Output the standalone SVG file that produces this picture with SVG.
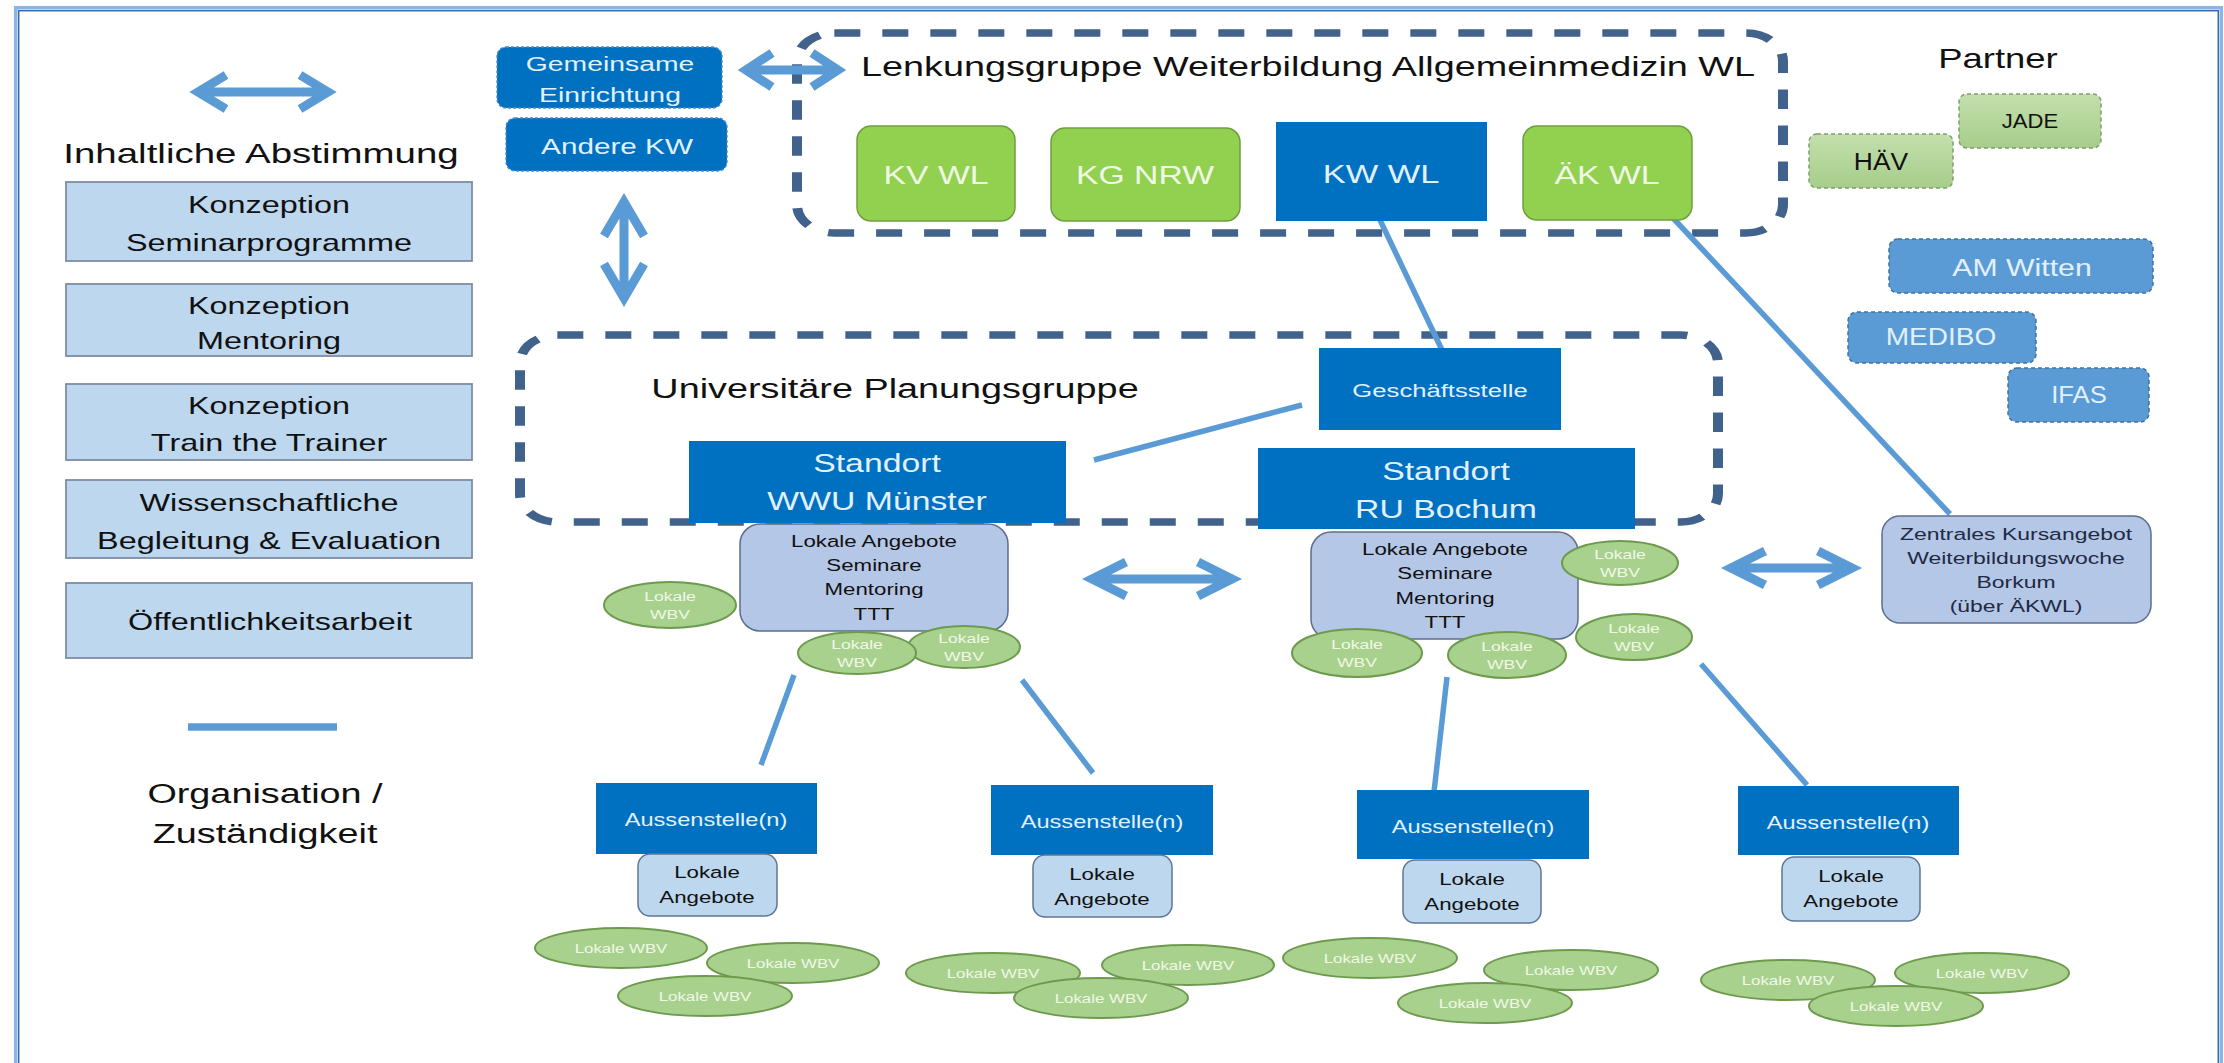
<svg xmlns="http://www.w3.org/2000/svg" width="2224" height="1063" viewBox="0 0 2224 1063">
<defs>
<style>
.t{font-family:"Liberation Sans",Arial,sans-serif;text-anchor:middle}
.dk{fill:#111}
.lt{fill:#e2f1ff}
.gt{fill:#f0f8e6}
.nv{fill:#1f2a44}
.boxl{fill:#bdd7ee;stroke:#7d8da5;stroke-width:1.8}
.blue{fill:#0070c0}
.bluedash{fill:#0070c0;stroke:#4a89cf;stroke-width:1.3;stroke-dasharray:3 2}
.green{fill:#92d050;stroke:#6f9e3f;stroke-width:1.5}
.la{fill:#b4c7e7;stroke:#5c6e8c;stroke-width:1.5}
.la2{fill:#bdd7ee;stroke:#5f7596;stroke-width:1.5}
.wbv{fill:#a9d18e;stroke:#6e9a4e;stroke-width:2}
.pg{fill:url(#pgGrad);stroke:#7f9f6a;stroke-width:1.5;stroke-dasharray:4 3}
.pb{fill:#5b9bd5;stroke:#41719c;stroke-width:1.5;stroke-dasharray:4 3}
.dash{fill:none;stroke:#41628c;stroke-width:7.5;stroke-dasharray:19.5 16.5}
.conn{stroke:#5b9bd5;stroke-width:5.5;fill:none}
.arr{stroke:#5b9bd5;stroke-width:9;fill:none;stroke-linejoin:miter}
</style>
<linearGradient id="pgGrad" x1="0" y1="0" x2="0" y2="1">
<stop offset="0" stop-color="#c3dfae"/>
<stop offset="1" stop-color="#a6cd8a"/>
</linearGradient>
</defs>
<rect width="2224" height="1063" fill="#ffffff"/>
<g id="frame">
<rect x="15.7" y="7.7" width="2205.6" height="1100" fill="none" stroke="#8db4e2" stroke-width="3.5"/>
<rect x="18.7" y="10.7" width="2199.6" height="1100" fill="none" stroke="#2e6db4" stroke-width="1.5"/>
</g>
<g id="groups" transform="scale(1.33333,1)">
<rect id="lenkungsgruppe-frame" class="dash" x="597.75" y="33" width="739.5" height="200" rx="28" ry="28"/>
<rect id="planungsgruppe-frame" class="dash" x="390" y="335" width="898.5" height="187" rx="28" ry="28"/>
</g>
<g id="legend">
<path class="arr" d="M198,92 H328 M226,75 L198,92 L226,109 M300,75 L328,92 L300,109"/>
<text class="t dk" font-size="28.5" transform="translate(261,163) scale(1.35,1)">Inhaltliche Abstimmung</text>
<line x1="188" y1="727" x2="337" y2="727" stroke="#5b9bd5" stroke-width="7.5"/>
<text class="t dk" font-size="28" transform="translate(265,803) scale(1.35,1)">Organisation /</text>
<text class="t dk" font-size="28" transform="translate(265,843) scale(1.35,1)">Zuständigkeit</text>
</g>
<g id="konzeption-seminar">
<rect class="boxl" x="66" y="182" width="406" height="79"/>
<text class="t dk" font-size="24" transform="translate(269,213) scale(1.35,1)">Konzeption</text>
<text class="t dk" font-size="24" transform="translate(269,251) scale(1.35,1)">Seminarprogramme</text>
</g>
<g id="konzeption-mentoring">
<rect class="boxl" x="66" y="284" width="406" height="72"/>
<text class="t dk" font-size="24" transform="translate(269,314) scale(1.35,1)">Konzeption</text>
<text class="t dk" font-size="24" transform="translate(269,349) scale(1.35,1)">Mentoring</text>
</g>
<g id="konzeption-ttt">
<rect class="boxl" x="66" y="384" width="406" height="76"/>
<text class="t dk" font-size="24" transform="translate(269,414) scale(1.35,1)">Konzeption</text>
<text class="t dk" font-size="24" transform="translate(269,451) scale(1.35,1)">Train the Trainer</text>
</g>
<g id="wiss-begleitung">
<rect class="boxl" x="66" y="480" width="406" height="78"/>
<text class="t dk" font-size="24" transform="translate(269,511) scale(1.35,1)">Wissenschaftliche</text>
<text class="t dk" font-size="24" transform="translate(269,549) scale(1.35,1)">Begleitung &amp; Evaluation</text>
</g>
<g id="oeffentlichkeitsarbeit">
<rect class="boxl" x="66" y="583" width="406" height="75"/>
<text class="t dk" font-size="24" transform="translate(270,630) scale(1.35,1)">Öffentlichkeitsarbeit</text>
</g>
<g id="connectors">
<line class="conn" x1="1380" y1="220" x2="1442" y2="350"/>
<line class="conn" x1="1673" y1="218" x2="1950" y2="514"/>
<line class="conn" x1="1094" y1="460" x2="1302" y2="405"/>
<line class="conn" x1="794" y1="675" x2="761" y2="765"/>
<line class="conn" x1="1022" y1="680" x2="1093" y2="773"/>
<line class="conn" x1="1447" y1="677" x2="1434" y2="792"/>
<line class="conn" x1="1701" y1="664" x2="1807" y2="785"/>
<path class="arr" d="M746,70 H838 M772,53 L746,70 L772,87 M812,53 L838,70 L812,87"/>
<path class="arr" stroke-width="10.5" d="M624,202 V298 M604,236 L624,202 L644,236 M604,264 L624,298 L644,264"/>
<path class="arr" d="M1092,579 H1232 M1126,562 L1092,579 L1126,596 M1198,562 L1232,579 L1198,596"/>
<path class="arr" d="M1731,568 H1852 M1765,551 L1731,568 L1765,585 M1818,551 L1852,568 L1818,585"/>
</g>
<g id="gemeinsame-einrichtung">
<rect class="bluedash" x="497" y="47" width="225" height="61" rx="9"/>
<text class="t lt" font-size="21" transform="translate(610,71) scale(1.35,1)">Gemeinsame</text>
<text class="t lt" font-size="21" transform="translate(610,102) scale(1.35,1)">Einrichtung</text>
</g>
<g id="andere-kw">
<rect class="bluedash" x="506" y="118" width="221" height="53" rx="9"/>
<text class="t lt" font-size="22" transform="translate(617,154) scale(1.35,1)">Andere KW</text>
</g>
<g id="lenkungsgruppe">
<text class="t dk" font-size="28" transform="translate(1308,76) scale(1.35,1)">Lenkungsgruppe Weiterbildung Allgemeinmedizin WL</text>
</g>
<g id="kv-wl">
<rect class="green" x="857" y="126" width="158" height="95" rx="14"/>
<text class="t gt" font-size="25" transform="translate(936,184) scale(1.35,1)">KV WL</text>
</g>
<g id="kg-nrw">
<rect class="green" x="1051" y="128" width="189" height="93" rx="14"/>
<text class="t gt" font-size="25" transform="translate(1145,184) scale(1.35,1)">KG NRW</text>
</g>
<g id="kw-wl">
<rect class="blue" x="1276" y="122" width="211" height="99"/>
<text class="t lt" font-size="25.5" transform="translate(1381,183) scale(1.35,1)">KW WL</text>
</g>
<g id="ak-wl">
<rect class="green" x="1523" y="126" width="169" height="94" rx="14"/>
<text class="t gt" font-size="25" transform="translate(1607,184) scale(1.35,1)">ÄK WL</text>
</g>
<g id="partner">
<text class="t dk" font-size="27" transform="translate(1998,68) scale(1.35,1)">Partner</text>
</g>
<g id="jade">
<rect class="pg" x="1959" y="94" width="142" height="54" rx="8"/>
<text class="t dk" font-size="21" transform="translate(2030,128) scale(1.05,1)">JADE</text>
</g>
<g id="haev">
<rect class="pg" x="1809" y="134" width="144" height="54" rx="8"/>
<text class="t dk" font-size="24" transform="translate(1881,170) scale(1.1,1)">HÄV</text>
</g>
<g id="am-witten">
<rect class="pb" x="1889" y="239" width="264" height="54" rx="9"/>
<text class="t lt" font-size="24" transform="translate(2022,276) scale(1.26,1)">AM Witten</text>
</g>
<g id="medibo">
<rect class="pb" x="1848" y="312" width="188" height="51" rx="9"/>
<text class="t lt" font-size="23" transform="translate(1941,345) scale(1.22,1)">MEDIBO</text>
</g>
<g id="ifas">
<rect class="pb" x="2008" y="368" width="141" height="54" rx="9"/>
<text class="t lt" font-size="24" transform="translate(2079,403) scale(1.07,1)">IFAS</text>
</g>
<g id="planungsgruppe">
<text class="t dk" font-size="28" transform="translate(895,398) scale(1.35,1)">Universitäre Planungsgruppe</text>
</g>
<g id="geschaeftsstelle">
<rect class="blue" x="1319" y="348" width="242" height="82"/>
<text class="t lt" font-size="19" transform="translate(1440,397) scale(1.35,1)">Geschäftsstelle</text>
</g>
<g id="standort-muenster">
<rect class="blue" x="689" y="441" width="377" height="82"/>
<text class="t lt" font-size="25" transform="translate(877,472) scale(1.35,1)">Standort</text>
<text class="t lt" font-size="25" transform="translate(877,510) scale(1.35,1)">WWU Münster</text>
</g>
<g id="standort-bochum">
<rect class="blue" x="1258" y="448" width="377" height="81"/>
<text class="t lt" font-size="25" transform="translate(1446,480) scale(1.35,1)">Standort</text>
<text class="t lt" font-size="25" transform="translate(1446,518) scale(1.35,1)">RU Bochum</text>
</g>
<g id="angebote-muenster">
<rect class="la" x="740" y="524" width="268" height="107" rx="20"/>
<text class="t dk" font-size="16.5" transform="translate(874,547) scale(1.35,1)">Lokale Angebote</text>
<text class="t dk" font-size="16.5" transform="translate(874,571) scale(1.35,1)">Seminare</text>
<text class="t dk" font-size="16.5" transform="translate(874,595) scale(1.35,1)">Mentoring</text>
<text class="t dk" font-size="16.5" transform="translate(874,620) scale(1.35,1)">TTT</text>
</g>
<g id="angebote-bochum">
<rect class="la" x="1311" y="532" width="267" height="107" rx="20"/>
<text class="t dk" font-size="16.5" transform="translate(1445,555) scale(1.35,1)">Lokale Angebote</text>
<text class="t dk" font-size="16.5" transform="translate(1445,579) scale(1.35,1)">Seminare</text>
<text class="t dk" font-size="16.5" transform="translate(1445,604) scale(1.35,1)">Mentoring</text>
<text class="t dk" font-size="16.5" transform="translate(1445,628) scale(1.35,1)">TTT</text>
</g>
<g id="zentrales-kursangebot">
<rect class="la" x="1882" y="516" width="269" height="107" rx="18"/>
<text class="t nv" font-size="17" transform="translate(2016,540) scale(1.35,1)">Zentrales Kursangebot</text>
<text class="t nv" font-size="17" transform="translate(2016,564) scale(1.35,1)">Weiterbildungswoche</text>
<text class="t nv" font-size="17" transform="translate(2016,588) scale(1.35,1)">Borkum</text>
<text class="t nv" font-size="17" transform="translate(2016,612) scale(1.35,1)">(über ÄKWL)</text>
</g>
<g id="wbv-muenster">
<ellipse class="wbv" cx="670" cy="605" rx="66" ry="23"/>
<text class="t gt" font-size="13" transform="translate(670,601) scale(1.35,1)">Lokale</text>
<text class="t gt" font-size="13" transform="translate(670,619) scale(1.35,1)">WBV</text>
<ellipse class="wbv" cx="964" cy="647" rx="56" ry="21"/>
<text class="t gt" font-size="13" transform="translate(964,643) scale(1.35,1)">Lokale</text>
<text class="t gt" font-size="13" transform="translate(964,661) scale(1.35,1)">WBV</text>
<ellipse class="wbv" cx="857" cy="653" rx="59" ry="21"/>
<text class="t gt" font-size="13" transform="translate(857,649) scale(1.35,1)">Lokale</text>
<text class="t gt" font-size="13" transform="translate(857,667) scale(1.35,1)">WBV</text>
</g>
<g id="wbv-bochum">
<ellipse class="wbv" cx="1620" cy="563" rx="58" ry="22"/>
<text class="t gt" font-size="13" transform="translate(1620,559) scale(1.35,1)">Lokale</text>
<text class="t gt" font-size="13" transform="translate(1620,577) scale(1.35,1)">WBV</text>
<ellipse class="wbv" cx="1634" cy="637" rx="58" ry="23"/>
<text class="t gt" font-size="13" transform="translate(1634,633) scale(1.35,1)">Lokale</text>
<text class="t gt" font-size="13" transform="translate(1634,651) scale(1.35,1)">WBV</text>
<ellipse class="wbv" cx="1357" cy="653" rx="65" ry="24"/>
<text class="t gt" font-size="13" transform="translate(1357,649) scale(1.35,1)">Lokale</text>
<text class="t gt" font-size="13" transform="translate(1357,667) scale(1.35,1)">WBV</text>
<ellipse class="wbv" cx="1507" cy="655" rx="59" ry="23"/>
<text class="t gt" font-size="13" transform="translate(1507,651) scale(1.35,1)">Lokale</text>
<text class="t gt" font-size="13" transform="translate(1507,669) scale(1.35,1)">WBV</text>
</g>
<g id="aussenstelle-1">
<rect class="blue" x="596" y="783" width="221" height="71"/>
<text class="t lt" font-size="17.5" transform="translate(706,826) scale(1.35,1)">Aussenstelle(n)</text>
<rect class="la2" x="638" y="854" width="139" height="62" rx="12"/>
<text class="t dk" font-size="16.5" transform="translate(707,878) scale(1.35,1)">Lokale</text>
<text class="t dk" font-size="16.5" transform="translate(707,903) scale(1.35,1)">Angebote</text>
</g>
<g id="aussenstelle-2">
<rect class="blue" x="991" y="785" width="222" height="70"/>
<text class="t lt" font-size="17.5" transform="translate(1102,828) scale(1.35,1)">Aussenstelle(n)</text>
<rect class="la2" x="1033" y="855" width="139" height="62" rx="12"/>
<text class="t dk" font-size="16.5" transform="translate(1102,880) scale(1.35,1)">Lokale</text>
<text class="t dk" font-size="16.5" transform="translate(1102,905) scale(1.35,1)">Angebote</text>
</g>
<g id="aussenstelle-3">
<rect class="blue" x="1357" y="790" width="232" height="69"/>
<text class="t lt" font-size="17.5" transform="translate(1473,833) scale(1.35,1)">Aussenstelle(n)</text>
<rect class="la2" x="1403" y="860" width="138" height="63" rx="12"/>
<text class="t dk" font-size="16.5" transform="translate(1472,885) scale(1.35,1)">Lokale</text>
<text class="t dk" font-size="16.5" transform="translate(1472,910) scale(1.35,1)">Angebote</text>
</g>
<g id="aussenstelle-4">
<rect class="blue" x="1738" y="786" width="221" height="69"/>
<text class="t lt" font-size="17.5" transform="translate(1848,829) scale(1.35,1)">Aussenstelle(n)</text>
<rect class="la2" x="1782" y="857" width="138" height="64" rx="12"/>
<text class="t dk" font-size="16.5" transform="translate(1851,882) scale(1.35,1)">Lokale</text>
<text class="t dk" font-size="16.5" transform="translate(1851,907) scale(1.35,1)">Angebote</text>
</g>
<g id="wbv-aussen-1">
<ellipse class="wbv" cx="621" cy="948" rx="86" ry="20"/>
<text class="t gt" font-size="12.5" transform="translate(621,952.5) scale(1.35,1)">Lokale WBV</text>
<ellipse class="wbv" cx="793" cy="963" rx="86" ry="20"/>
<text class="t gt" font-size="12.5" transform="translate(793,967.5) scale(1.35,1)">Lokale WBV</text>
<ellipse class="wbv" cx="705" cy="996" rx="87" ry="20"/>
<text class="t gt" font-size="12.5" transform="translate(705,1000.5) scale(1.35,1)">Lokale WBV</text>
</g>
<g id="wbv-aussen-2">
<ellipse class="wbv" cx="993" cy="973" rx="87" ry="20"/>
<text class="t gt" font-size="12.5" transform="translate(993,977.5) scale(1.35,1)">Lokale WBV</text>
<ellipse class="wbv" cx="1188" cy="965" rx="86" ry="20"/>
<text class="t gt" font-size="12.5" transform="translate(1188,969.5) scale(1.35,1)">Lokale WBV</text>
<ellipse class="wbv" cx="1101" cy="998" rx="87" ry="20"/>
<text class="t gt" font-size="12.5" transform="translate(1101,1002.5) scale(1.35,1)">Lokale WBV</text>
</g>
<g id="wbv-aussen-3">
<ellipse class="wbv" cx="1370" cy="958" rx="87" ry="20"/>
<text class="t gt" font-size="12.5" transform="translate(1370,962.5) scale(1.35,1)">Lokale WBV</text>
<ellipse class="wbv" cx="1571" cy="970" rx="87" ry="20"/>
<text class="t gt" font-size="12.5" transform="translate(1571,974.5) scale(1.35,1)">Lokale WBV</text>
<ellipse class="wbv" cx="1485" cy="1003" rx="87" ry="20"/>
<text class="t gt" font-size="12.5" transform="translate(1485,1007.5) scale(1.35,1)">Lokale WBV</text>
</g>
<g id="wbv-aussen-4">
<ellipse class="wbv" cx="1788" cy="980" rx="87" ry="20"/>
<text class="t gt" font-size="12.5" transform="translate(1788,984.5) scale(1.35,1)">Lokale WBV</text>
<ellipse class="wbv" cx="1982" cy="973" rx="87" ry="20"/>
<text class="t gt" font-size="12.5" transform="translate(1982,977.5) scale(1.35,1)">Lokale WBV</text>
<ellipse class="wbv" cx="1896" cy="1006" rx="87" ry="20"/>
<text class="t gt" font-size="12.5" transform="translate(1896,1010.5) scale(1.35,1)">Lokale WBV</text>
</g>
</svg>
